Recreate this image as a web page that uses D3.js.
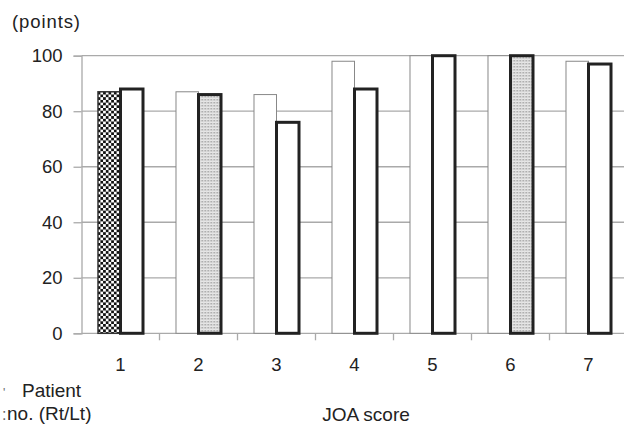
<!DOCTYPE html>
<html><head><meta charset="utf-8">
<script src="https://cdn.jsdelivr.net/npm/d3@7"></script>
<style>
html,body{margin:0;padding:0;background:#fff;}
svg{display:block;font-family:"Liberation Sans",Arial,sans-serif;}
</style></head>
<body><svg id="c" width="624" height="427"></svg>
<script>
const categories = ["1","2","3","4","5","6","7"];
const series = ["Rt","Lt"];
const rtValues = [87, 87, 86, 98, 100, 100, 98];
const ltValues = [88, 86, 76, 88, 100, 100, 97];
const yTicks = [0, 20, 40, 60, 80, 100];
// fills: "plain", "check", "dots"
const rtFills = ["check","plain","plain","plain","plain","plain","plain"];
const ltFills = ["plain","dots","plain","plain","plain","dots","plain"];

const svg = d3.select("#c");
const m = {left: 81.5, right: 627.5, top: 55.7, bottom: 333.3};

const defs = svg.append("defs");
const chk = defs.append("pattern").attr("id","check").attr("patternUnits","userSpaceOnUse")
  .attr("width",5.4).attr("height",5.4);
chk.append("rect").attr("width",5.4).attr("height",5.4).attr("fill","#fff");
chk.append("rect").attr("width",2.7).attr("height",2.7).attr("fill","#111");
chk.append("rect").attr("x",2.7).attr("y",2.7).attr("width",2.7).attr("height",2.7).attr("fill","#111");
const dts = defs.append("pattern").attr("id","dots").attr("patternUnits","userSpaceOnUse")
  .attr("width",3).attr("height",3);
dts.append("rect").attr("width",3).attr("height",3).attr("fill","#ececec");
dts.append("rect").attr("width",1.5).attr("height",1.5).attr("fill","#9a9a9a");
dts.append("rect").attr("x",1.5).attr("y",1.5).attr("width",1).attr("height",1).attr("fill","#c4c4c4");

const x0 = d3.scaleBand().domain(categories).range([m.left, m.right]).paddingInner(0).paddingOuter(0);
const x1 = d3.scaleBand().domain(series).range([0, x0.bandwidth()]).paddingInner(0).paddingOuter(0.733);
const y = d3.scaleLinear().domain([0,100]).range([m.bottom, m.top]);

// gridlines
svg.append("g").selectAll("line").data(yTicks.filter(d=>d>0)).join("line")
  .attr("x1", m.left).attr("x2", m.right)
  .attr("y1", d=>y(d)).attr("y2", d=>y(d))
  .attr("stroke","#aaa").attr("stroke-width",1.3);

// y axis
const yAxis = svg.append("g").attr("transform",`translate(${m.left},0)`)
  .call(d3.axisLeft(y).tickValues(yTicks).tickSize(8).tickPadding(11));
yAxis.select(".domain").attr("stroke","#aaa").attr("stroke-width",1.3);
yAxis.selectAll(".tick line").attr("stroke","#aaa").attr("stroke-width",1.3);
yAxis.selectAll("text").attr("font-size",18.5).attr("fill","#222")
  .attr("font-family","'Liberation Sans',Arial,sans-serif");

// x axis
const xAxisG = svg.append("g").attr("transform",`translate(0,${m.bottom})`);
xAxisG.append("line").attr("x1",m.left).attr("x2",m.right).attr("stroke","#aaa").attr("stroke-width",1.3);
xAxisG.selectAll("line.tk").data(categories.slice(1).concat(["end"])).join("line").attr("class","tk")
  .attr("x1",(d,i)=>m.left + (i+1)*x0.step()).attr("x2",(d,i)=>m.left + (i+1)*x0.step())
  .attr("y1",0).attr("y2",7).attr("stroke","#aaa").attr("stroke-width",1.3);
xAxisG.selectAll("text").data(categories).join("text")
  .attr("x", d=>x0(d)+x0.bandwidth()/2).attr("y", 38)
  .attr("text-anchor","middle").attr("font-size",18.5).attr("fill","#222").text(d=>d);

// bars
const rows = categories.map((c,i)=>({c, vals:[
  {s:"Rt", v:rtValues[i], f:rtFills[i]},
  {s:"Lt", v:ltValues[i], f:ltFills[i]}]}));
const grp = svg.append("g").selectAll("g").data(rows).join("g")
  .attr("transform", d=>`translate(${x0(d.c)},0)`);
grp.selectAll("rect").data(d=>d.vals).join("rect")
  .attr("x", d=>x1(d.s)).attr("width", x1.bandwidth())
  .attr("y", d=>y(d.v)).attr("height", d=>y(0)-y(d.v))
  .attr("fill", d=> d.f==="plain" ? "#fff" : `url(#${d.f})`)
  .attr("stroke", d=> d.s==="Lt" ? "#222" : (d.f==="check" ? "#333" : "#888"))
  .attr("stroke-width", d=> d.s==="Lt" ? 3 : (d.f==="check" ? 1.5 : 1));

// texts
svg.append("text").attr("x",12).attr("y",28).attr("font-size",18.5).attr("letter-spacing",0.9).attr("fill","#222").text("(points)");
svg.append("text").attr("x",366).attr("y",421).attr("text-anchor","middle").attr("font-size",19).attr("fill","#222").text("JOA score");
svg.append("text").attr("x",22).attr("y",397).attr("font-size",19).attr("fill","#222").text("Patient");
svg.append("text").attr("x",7).attr("y",420).attr("font-size",19).attr("fill","#222").text("no. (Rt/Lt)");
svg.append("text").attr("x",3).attr("y",397).attr("font-size",12).attr("fill","#666").text("'");
svg.append("text").attr("x",2).attr("y",420).attr("font-size",16).attr("fill","#666").text(":");
</script></body></html>
